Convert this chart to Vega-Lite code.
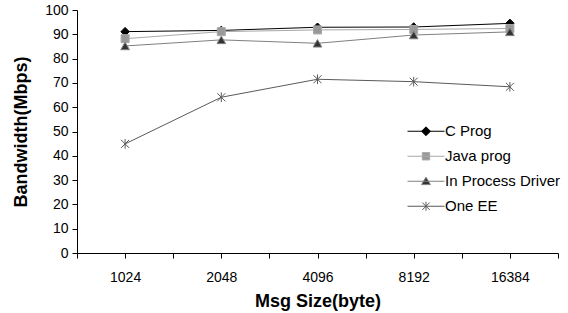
{
  "$schema": "https://vega.github.io/schema/vega-lite/v6.json",
  "width": 481,
  "height": 243,
  "autosize": "none",
  "padding": {"left": 77, "top": 10, "right": 10, "bottom": 60},
  "background": "white",
  "config": {
    "view": {"stroke": null},
    "font": "Liberation Sans",
    "axis": {"grid": false, "domainColor": "#000", "tickColor": "#000", "labelColor": "#000", "titleColor": "#000", "labelFont": "Liberation Sans", "titleFont": "Liberation Sans", "labelFontSize": 14, "titleFontSize": 18, "titleFontWeight": "bold", "tickSize": 5, "labelPadding": 4}
  },
  "data": {
    "values": [
      {"series": "C Prog", "size": 1024, "bw": 91.1},
      {"series": "C Prog", "size": 2048, "bw": 91.6},
      {"series": "C Prog", "size": 4096, "bw": 92.9},
      {"series": "C Prog", "size": 8192, "bw": 93.0},
      {"series": "C Prog", "size": 16384, "bw": 94.5},
      {"series": "Java prog", "size": 1024, "bw": 88.2},
      {"series": "Java prog", "size": 2048, "bw": 91.1},
      {"series": "Java prog", "size": 4096, "bw": 91.8},
      {"series": "Java prog", "size": 8192, "bw": 92.0},
      {"series": "Java prog", "size": 16384, "bw": 92.4},
      {"series": "In Process Driver", "size": 1024, "bw": 85.2},
      {"series": "In Process Driver", "size": 2048, "bw": 87.7},
      {"series": "In Process Driver", "size": 4096, "bw": 86.3},
      {"series": "In Process Driver", "size": 8192, "bw": 89.7},
      {"series": "In Process Driver", "size": 16384, "bw": 91.0},
      {"series": "One EE", "size": 1024, "bw": 44.9},
      {"series": "One EE", "size": 2048, "bw": 64.1},
      {"series": "One EE", "size": 4096, "bw": 71.5},
      {"series": "One EE", "size": 8192, "bw": 70.5},
      {"series": "One EE", "size": 16384, "bw": 68.4}
    ]
  },
  "encoding": {
    "x": {
      "field": "size", "type": "quantitative",
      "scale": {"type": "log", "base": 2, "domain": [724.0773, 23170.475], "nice": false, "zero": false},
      "axis": {
        "title": "Msg Size(byte)",
        "values": [724.0773, 1024, 1448.1547, 2048, 2896.3094, 4096, 5792.6188, 8192, 11585.2375, 16384, 23170.475],
        "labelExpr": "indexof([1024, 2048, 4096, 8192, 16384], datum.value) >= 0 ? format(datum.value, 'd') : ''",
        "labelOverlap": false,
        "labelPadding": 12,
        "titlePadding": 8
      }
    },
    "y": {
      "field": "bw", "type": "quantitative",
      "scale": {"domain": [0, 100], "nice": false},
      "axis": {"title": "Bandwidth(Mbps)", "values": [0,10,20,30,40,50,60,70,80,90,100], "titlePadding": 14}
    },
    "stroke": {
      "field": "series", "type": "nominal",
      "scale": {"domain": ["C Prog", "Java prog", "In Process Driver", "One EE"], "range": ["#000000", "#a8a8a8", "#808080", "#5a5a5a"]},
      "legend": {
        "title": null,
        "orient": "none",
        "legendX": 330,
        "legendY": 110,
        "labelFontSize": 15,
        "labelFont": "Liberation Sans",
        "labelColor": "#000",
        "symbolSize": 1369,
        "symbolStrokeWidth": 1,
        "clipHeight": 22.5,
        "rowPadding": 2,
        "labelOffset": 0,
        "encode": {
          "symbols": {
            "update": {
              "shape": {"signal": "datum.value === 'C Prog' ? 'M-1,0L1,0M0,-0.24L0.24,0L0,0.24L-0.24,0Z' : datum.value === 'Java prog' ? 'M-1,0L1,0M-0.2,-0.2L0.2,-0.2L0.2,0.2L-0.2,0.2Z' : datum.value === 'In Process Driver' ? 'M-1,0L1,0M0,-0.22L0.24,0.18L-0.24,0.18Z' : 'M-1,0L1,0M-0.2,-0.2L0.2,0.2M-0.2,0.2L0.2,-0.2M0,-0.24L0,0.24'"},
              "fill": {"signal": "datum.value === 'C Prog' ? '#000000' : datum.value === 'Java prog' ? '#999999' : datum.value === 'In Process Driver' ? '#333333' : 'transparent'"}
            }
          }
        }
      }
    }
  },
  "layer": [
    {
      "mark": {"type": "line", "strokeWidth": 1}
    },
    {
      "transform": [{"filter": "datum.series === 'C Prog'"}],
      "mark": {"type": "point", "shape": "diamond", "size": 72, "filled": true, "fill": "#000000", "strokeWidth": 1, "opacity": 1}
    },
    {
      "transform": [{"filter": "datum.series === 'Java prog'"}],
      "mark": {"type": "point", "shape": "square", "size": 64, "filled": true, "fill": "#999999", "strokeWidth": 1, "opacity": 1}
    },
    {
      "transform": [{"filter": "datum.series === 'In Process Driver'"}],
      "mark": {"type": "point", "shape": "triangle-up", "size": 75, "filled": true, "fill": "#333333", "strokeWidth": 1, "opacity": 1}
    },
    {
      "transform": [{"filter": "datum.series === 'One EE'"}],
      "mark": {"type": "point", "shape": "M-1,-1L1,1M-1,1L1,-1M0,-1.2L0,1.2", "size": 64, "filled": false, "strokeWidth": 1, "opacity": 1}
    }
  ]
}
